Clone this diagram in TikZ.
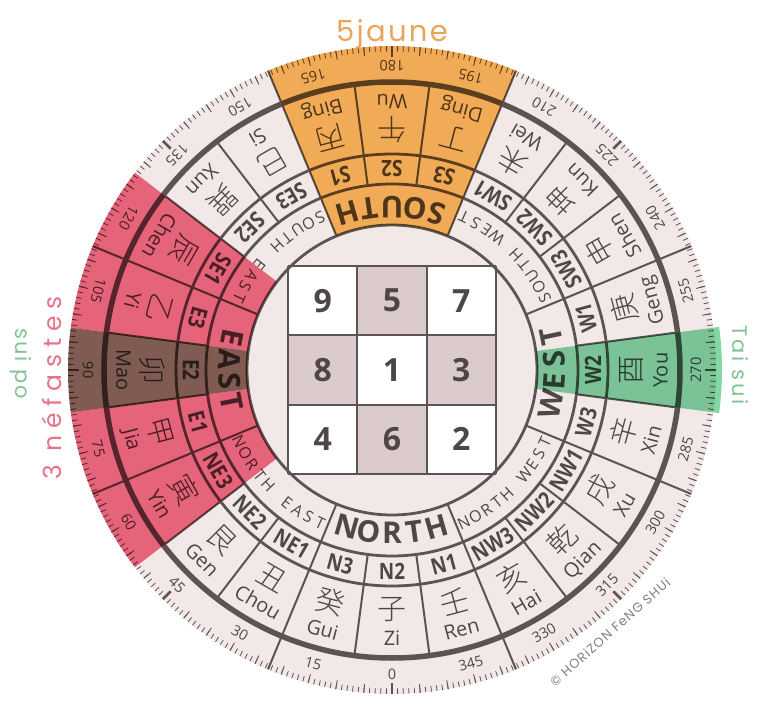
\documentclass[tikz,border=0pt]{standalone}
\usepackage{fontspec}
\setmainfont{Open Sans}
\IfFontExistsTF{Noto Sans CJK SC Light}{\newfontfamily\cjk{Noto Sans CJK SC Light}}{\newfontfamily\cjk{Noto Sans CJK SC}}
\newfontfamily\deco{Poppins}
\newfontfamily\subf{Open Sans}[FakeStretch=0.84]
\definecolor{bgc}{HTML}{F3E8E8}
\definecolor{lnc}{HTML}{5C5454}
\definecolor{txc}{HTML}{4F4747}
\definecolor{shc}{HTML}{DCCBCB}
\definecolor{ovor}{HTML}{FDBD5F}
\definecolor{ovpk}{HTML}{F16E86}
\definecolor{ovbr}{HTML}{86655A}
\definecolor{ovgr}{HTML}{82D7A5}
\definecolor{orT}{HTML}{E9A55A}
\definecolor{pkT}{HTML}{E8728A}
\definecolor{grT}{HTML}{82C396}
\definecolor{cpT}{HTML}{808080}
\tikzset{
  chn/.style={font=\cjk\fontsize{29}{29}\selectfont, text=txc, inner sep=0pt},
  pin/.style={font=\fontsize{20}{20}\selectfont, text=txc, inner sep=0pt, text height=0.72em, text depth=0.2em},
  sublab/.style={font=\subf\bfseries\fontsize{22.5}{22.5}\selectfont, text=txc, inner sep=0pt},
  deglab/.style={font=\fontsize{14.5}{14.5}\selectfont, text=txc, inner sep=0pt},
  bigdir/.style={font=\bfseries\fontsize{30}{30}\selectfont, text=txc, inner sep=0pt},
  smalldir/.style={font=\fontsize{16}{16}\selectfont, text=txc, inner sep=0pt},
  ring/.style={draw=lnc, line width=2.8pt},
  radial/.style={draw=lnc, line width=2pt},
  digit/.style={font=\bfseries\fontsize{32}{32}\selectfont, text=txc, inner sep=0pt},
}
\newcommand\arcword[7]{% #1 d, #2 r, #3 step, #4 style, #5 n, #6 name, #7 letters
  \foreach \L [count=\i] in {#7} {
    \pgfmathsetmacro\dd{#1+((#5+1)/2-\i)*#3}
    \pgfmathsetmacro\th{-90-(\dd)}
    \pgfmathsetmacro\rr{-(\dd)}
    \node[#4, rotate=\rr] (#6\i) at (\th:#2) {\L};
  }}
\newcommand\sectorpath[4]{% d1 d2 r1 r2
  ({-90-#1}:#3) arc[start angle={-90-#1}, end angle={-90-#2}, radius=#3]
  -- ({-90-#2}:#4) arc[start angle={-90-#2}, end angle={-90-#1}, radius=#4] -- cycle}
\begin{document}
\begin{tikzpicture}[x=1pt,y=1pt]
\useasboundingbox (-392,-348) rectangle (366,370);
% background disc
\fill[bgc] (0,0) circle (324);
% Lo Shu grid
\foreach \col/\row/\n/\sh in {0/0/9/white,1/0/5/shc,2/0/7/white,
  0/1/8/shc,1/1/1/white,2/1/3/shc,0/2/4/white,1/2/6/shc,2/2/2/white}{
  \fill[\sh] ({-104+69.33*\col},{104-69.33*\row}) rectangle ({-104+69.33*(\col+1)},{104-69.33*(\row+1)});
  \node[digit] (q\n) at ({-104+69.33*(\col+0.5)},{104-69.33*(\row+0.5)}) {\n};
}
\foreach \v in {-104,-34.67,34.67,104}{
  \draw[lnc, line width=2pt] (\v,-104) -- (\v,104);
  \draw[lnc, line width=2pt] (-104,\v) -- (104,\v);
}
% ticks
\foreach \a in {0,...,359} \draw[lnc, line width=0.8pt] ({-90-\a}:324) -- ({-90-\a}:318.5);
\foreach \a in {0,5,...,355} \draw[lnc, line width=0.9pt] ({-90-\a}:324) -- ({-90-\a}:315);
\foreach \a in {0,45,...,315} \draw[lnc, line width=2.6pt] ({-90-\a}:324) -- ({-90-\a}:313);
% rings
\draw[lnc, line width=5.5pt] (0,0) circle (288);
\draw[ring] (0,0) circle (216);
\draw[ring] (0,0) circle (186);
\draw[ring] (0,0) circle (145);
% radial separators
\foreach \k in {0,...,23} \draw[radial] ({-97.5-15*\k}:186) -- ({-97.5-15*\k}:288);
\foreach \k in {0,...,7} {
  \draw[radial] ({-112.5-45*\k}:145) -- ({-112.5-45*\k}:186);
  \draw[radial] ({-112.5-45*\k}:288) -- ({-112.5-45*\k}:324);
}
% mountains
\foreach \d/\c/\p/\s in {0/子/Zi/N2, 15/癸/Gui/N3, 30/丑/Chou/NE1, 45/艮/Gen/NE2,
  60/寅/Yin/NE3, 75/甲/Jia/E1, 90/卯/Mao/E2, 105/乙/Yi/E3, 120/辰/Chen/SE1,
  135/巽/Xun/SE2, 150/巳/Si/SE3, 165/丙/Bing/S1, 180/午/Wu/S2, 195/丁/Ding/S3,
  210/未/Wei/SW1, 225/坤/Kun/SW2, 240/申/Shen/SW3, 255/庚/Geng/W1, 270/酉/You/W2,
  285/辛/Xin/W3, 300/戌/Xu/NW1, 315/乾/Qian/NW2, 330/亥/Hai/NW3, 345/壬/Ren/N1}{
  \node[chn, rotate=-\d] (c\d) at ({-90-\d}:240) {\c};
  \node[pin, rotate=-\d] (p\d) at ({-90-\d}:273) {\p};
  \node[sublab, rotate=-\d] (s\d) at ({-90-\d}:201) {\s};
  \node[deglab, rotate=-\d] (g\d) at ({-90-\d}:304) {\d};
}
% direction ring
\arcword{0}{163}{8}{bigdir}{5}{dN}{N,O,R,T,H}
\arcword{90}{163}{7.5}{bigdir}{4}{dE}{E,A,S,T}
\arcword{180}{163}{8}{bigdir}{5}{dS}{S,O,U,T,H}
\arcword{270}{163}{8}{bigdir}{4}{dW}{W,E,S,T}
\arcword{45}{169}{4.4}{smalldir}{10}{dNE}{N,O,R,T,H,{},E,A,S,T}
\arcword{135}{169}{4.4}{smalldir}{10}{dSE}{S,O,U,T,H,{},E,A,S,T}
\arcword{225}{169}{4.4}{smalldir}{10}{dSW}{S,O,U,T,H,{},W,E,S,T}
\arcword{315}{169}{4.4}{smalldir}{10}{dNW}{N,O,R,T,H,{},W,E,S,T}
% coloured overlays
\begin{scope}[blend mode=multiply]
\fill[ovor] \sectorpath{157.5}{202.5}{145}{324};
\fill[ovpk] \sectorpath{52.5}{82.5}{145}{324};
\fill[ovpk] \sectorpath{97.5}{127.5}{145}{324};
\fill[ovbr] \sectorpath{82.5}{97.5}{145}{324};
\fill[ovgr] \sectorpath{262.5}{277.5}{145}{330};
\end{scope}
% outside labels
\node[font=\deco\fontsize{29}{29}\selectfont\addfontfeature{LetterSpace=8}, text=orT, anchor=base, inner sep=0pt] (jaune) at (0,328) {5jaune};
\node[font=\deco\fontsize{25}{25}\selectfont\addfontfeature{LetterSpace=27}, text=pkT, anchor=base, rotate=90, inner sep=0pt] (nef) at (-330,-18) {3 néfastes};
\node[font=\deco\fontsize{21}{21}\selectfont\addfontfeature{LetterSpace=9}, text=grT, anchor=base, rotate=-90, inner sep=0pt] (suipo) at (-376,6) {sui po};
\node[font=\deco\fontsize{21}{21}\selectfont\addfontfeature{LetterSpace=12}, text=grT, anchor=base, rotate=-90, inner sep=0pt] (taisui) at (340,5) {Tai sui};
\node[font=\deco\fontsize{13}{13}\selectfont\addfontfeature{LetterSpace=8}, text=cpT, rotate=41.5, inner sep=0pt] (copy) at (218,-262) {© HORiZON FeNG SHUi};
\end{tikzpicture}
\end{document}
